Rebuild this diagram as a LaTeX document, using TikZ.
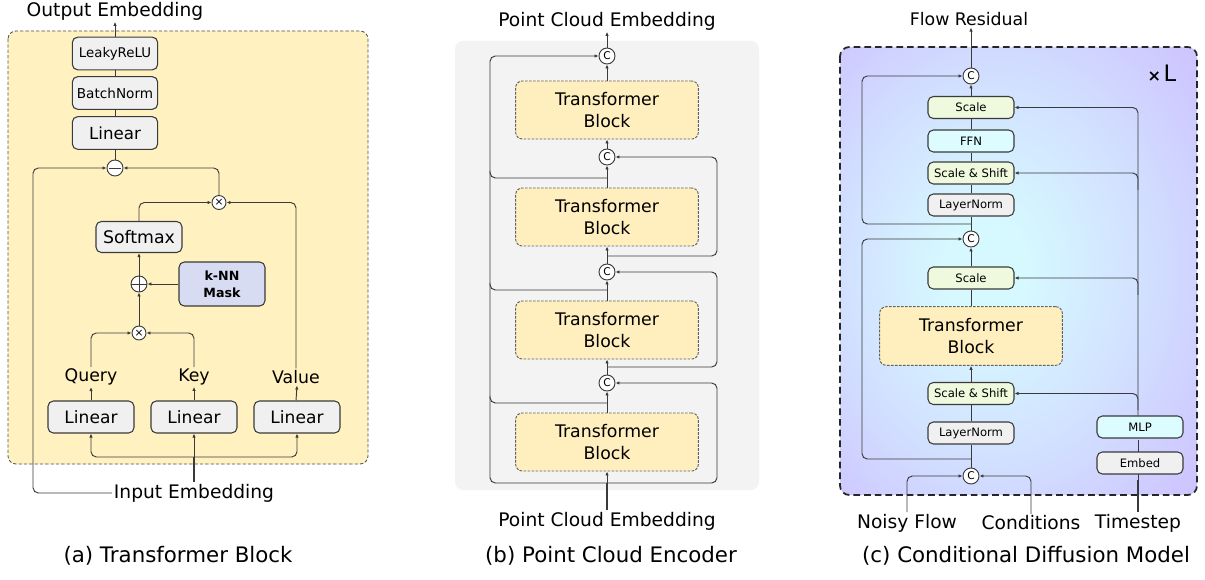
\documentclass[tikz,border=0pt]{standalone}
\usepackage{fontspec}
\setmainfont{DejaVu Sans}
\usetikzlibrary{arrows.meta,calc}
\definecolor{ln}{HTML}{3A3A3A}
\definecolor{ayel}{HTML}{FFF2C0}
\definecolor{tyel}{HTML}{FFEFBE}
\definecolor{gbx}{HTML}{F0F0F0}
\definecolor{bgray}{HTML}{F3F3F3}
\definecolor{maskc}{HTML}{D7DCF2}
\definecolor{grn}{HTML}{EFF9DD}
\definecolor{cyn}{HTML}{DCFCFF}
\definecolor{cA}{HTML}{D6F8FF}
\definecolor{cB}{HTML}{D2E2FF}
\definecolor{cM}{HTML}{CEC8FF}
\definecolor{cC}{HTML}{C9B4FB}
\definecolor{cD}{HTML}{C4A6F7}
\pgfdeclareradialshading{myrad}{\pgfpoint{-5bp}{0bp}}{color(0bp)=(cA); color(6bp)=(cA); color(20bp)=(cB); color(34bp)=(cM); color(48bp)=(cC); color(71bp)=(cD)}
\begin{document}
\begin{tikzpicture}[x=0.75pt,y=-0.75pt,
  line width=0.7pt, draw=ln,
  >={Latex[length=3pt,width=2.6pt]},
  rc/.style={rounded corners=4pt},
  txt/.style={inner sep=1pt, text=black},
  fa/.style={font=\fontsize{14}{16}\selectfont},
  fq/.style={font=\fontsize{13}{15}\selectfont},
  gbox/.style={draw=ln, fill=gbx, rounded corners=4pt, line width=0.8pt, inner sep=0pt, align=center},
  tblock/.style={draw=ln!80, fill=tyel, rounded corners=5pt, line width=0.7pt, dash pattern=on 2pt off 1pt, inner sep=0pt, align=center, minimum width=137pt, minimum height=43.5pt, font=\fontsize{13}{16}\selectfont},
  cbox/.style={draw=ln, rounded corners=4pt, line width=0.8pt, inner sep=0pt, minimum width=64.5pt, minimum height=16.5pt, font=\fontsize{8.7}{10}\selectfont},
  opc/.style={circle, draw=ln, line width=0.7pt, fill=white, inner sep=0pt, minimum size=12pt},
  cc/.style={opc, font=\fontsize{8}{9}\selectfont},
  plusc/.style={opc, path picture={\draw[line width=0.7pt] (path picture bounding box.north) -- (path picture bounding box.south) (path picture bounding box.west) -- (path picture bounding box.east);}},
  minusc/.style={opc, path picture={\draw[line width=0.7pt] ([xshift=-4.2pt]path picture bounding box.center) -- ([xshift=4.2pt]path picture bounding box.center);}},
  timesc/.style={opc, minimum size=10.5pt, font=\fontsize{8}{9}\selectfont}
]
\useasboundingbox (0,0) rectangle (1205,580);

% ================= (a) =================
\draw[fill=ayel, rounded corners=6pt, line width=0.6pt, draw=ln!90, dash pattern=on 2.5pt off 1.5pt] (8,31) rectangle (368,464);
\node[txt,fa] (outemb) at (115,11) {Output Embedding};
\node[gbox, minimum width=64pt, minimum height=24.5pt, font=\fontsize{10}{12}\selectfont] (lrelu) at (115,53.5) {LeakyReLU};
\node[gbox, minimum width=64pt, minimum height=24.5pt, font=\fontsize{10.2}{12}\selectfont] (bn) at (115,93) {BatchNorm};
\node[gbox, minimum width=64pt, minimum height=24.5pt, font=\fontsize{12.5}{14}\selectfont] (lin0) at (115,133) {Linear};
\node[minusc] (minus) at (115,168) {};
\node[timesc] (times1) at (219,202.5) {×};
\node[gbox, minimum width=64.5pt, minimum height=23.25pt, font=\fontsize{13}{15}\selectfont] (soft) at (139,237) {Softmax};
\node[plusc] (plus) at (139,284) {};
\node[gbox, fill=maskc, minimum width=64.5pt, minimum height=33pt, font=\bfseries\fontsize{9.5}{12.5}\selectfont] (mask) at (222,284) {k-NN\\Mask};
\node[timesc] (times2) at (139,333) {×};
\node[txt,fq] (qry) at (91,377) {Query};
\node[txt,fq] (key) at (194,377) {Key};
\node[txt,fq] (val) at (296,377) {Value};
\node[gbox, minimum width=64.5pt, minimum height=24pt, font=\fontsize{12.8}{14}\selectfont] (linq) at (91,417) {Linear};
\node[gbox, minimum width=64.5pt, minimum height=24pt, font=\fontsize{12.8}{14}\selectfont] (link) at (194,417) {Linear};
\node[gbox, minimum width=64.5pt, minimum height=24pt, font=\fontsize{12.8}{14}\selectfont] (linv) at (297,417) {Linear};
\node[txt,fa] (inemb) at (194,493) {Input Embedding};
\coordinate (asplit) at (194,457);

\draw[->] (lrelu.north) -- (lrelu.north |- outemb.south);
\draw (bn) -- (lrelu);
\draw (lin0) -- (bn);
\draw (minus) -- (lin0);
\draw[->,rc] (inemb.west) -| (33,300) |- (minus.west);
\draw[->,rc] (times1.north) |- (minus.east);
\draw[->,rc] (soft.north) |- (times1.west);
\draw[->,rc] (val.north) |- (times1.east);
\draw[->] (plus) -- (soft);
\draw[->] (mask.west) -- (plus.east);
\draw[->] (times2) -- (plus);
\draw[->,rc] (qry.north) |- (times2.west);
\draw[->,rc] (key.north) |- (times2.east);
\draw[->] (linq) -- (qry);
\draw[->] (link) -- (key);
\draw[->] (linv.north -| val.north) -- (val.south -| linv.north);
\draw[line width=1.2pt] (inemb.north) -- (asplit);
\draw[->] (asplit) -- (link.south);
\draw[->,rc] (asplit) -| (linq.south);
\draw[->,rc] (asplit) -| (linv.south);

% ================= (b) =================
\fill[bgray, rounded corners=6pt] (455,41) rectangle (759,490);
\node[txt,fa] (pce1) at (607,21) {Point Cloud Embedding};
\node[cc] (cb1) at (607,56) {C};
\node[cc] (cb2) at (607,157) {C};
\node[cc] (cb3) at (607,272) {C};
\node[cc] (cb4) at (607,383) {C};
\node[tblock] (tb1) at (607,110) {Transformer\\Block};
\node[tblock] (tb2) at (607,217) {Transformer\\Block};
\node[tblock] (tb3) at (607,330) {Transformer\\Block};
\node[tblock] (tb4) at (607,442) {Transformer\\Block};
\node[txt,fa] (pce2) at (607,521) {Point Cloud Embedding};
\coordinate (jl2) at (607,178);
\coordinate (jl3) at (607,290);
\coordinate (jl4) at (607,403);
\coordinate (jr2) at (607,256);
\coordinate (jr3) at (607,367);
\coordinate (jb) at (607,483);

\draw[->] (cb1) -- (pce1);
\draw[->] (tb1) -- (cb1);
\draw[->] (cb2) -- (tb1);
\draw[->] (tb2) -- (cb2);
\draw[->] (cb3) -- (tb2);
\draw[->] (tb3) -- (cb3);
\draw[->] (cb4) -- (tb3);
\draw[->] (tb4) -- (cb4);
\draw[line width=1.2pt] (pce2.north) -- (jb);
\draw[->] (jb) -- (tb4.south);
\draw[->,rc] (jb) -- (490,483) -- (490,56) -- (cb1.west);
\draw[rc] (jl2) -- (490,178) -- (490,171);
\draw[rc] (jl3) -- (490,290) -- (490,283);
\draw[rc] (jl4) -- (490,403) -- (490,396);
\draw[->,rc] (jr2) -- (717,256) |- (cb2.east);
\draw[->,rc] (jr3) -- (717,367) |- (cb3.east);
\draw[->,rc] (jb) -- (717,483) |- (cb4.east);

% ================= (c) =================
\shade[shading=myrad, rounded corners=7pt] (840,47) rectangle (1197,495);
\draw[rounded corners=7pt, line width=1.3pt, draw=black!85, dash pattern=on 5pt off 3pt] (840,47) rectangle (1197,495);
\node[txt, font=\fontsize{13}{15}\selectfont] (fr) at (969,19) {Flow Residual};
\node[txt] (xl) at (1162,73) {{\bfseries\fontsize{12}{14}\selectfont ×}\kern2pt{\fontsize{17}{19}\selectfont L}};
\node[cc] (cc1) at (971,76) {C};
\node[cc] (cc2) at (971,239) {C};
\node[cc] (cc3) at (971,476) {C};
\node[cbox, fill=grn] (sc1) at (971,107.5) {Scale};
\node[cbox, fill=cyn] (ffn) at (971,141) {FFN};
\node[cbox, fill=grn] (ss1) at (971,173) {Scale \& Shift};
\node[cbox, fill=gbx] (ln1) at (971,205) {LayerNorm};
\node[cbox, fill=grn] (sc2) at (971,278) {Scale};
\node[tblock, minimum height=44pt, fill=tyel] (tbc) at (971,336) {Transformer\\Block};
\node[cbox, fill=grn] (ss2) at (971,393.5) {Scale \& Shift};
\node[cbox, fill=gbx] (ln2) at (971,433) {LayerNorm};
\node[txt,fa] (nf) at (907,523) {Noisy Flow};
\node[txt,fa] (cond) at (1031,523) {Conditions};
\node[txt,fa] (ts) at (1138,523) {Timestep};
\coordinate (j1) at (971,224);
\coordinate (j2) at (971,459);
\coordinate (tbr1) at (1138,190);
\coordinate (tbr2) at (1138,295);
\coordinate (tbr3) at (1138,410);

\draw[->] (cc1.north) -- (cc1.north |- fr.south);
\draw[->] (sc1) -- (cc1);
\draw (ffn) -- (sc1);
\draw (ss1) -- (ffn);
\draw (ln1) -- (ss1);
\draw (cc2) -- (ln1);
\draw[->,rc] (j1) -- (862,224) |- (cc1.west);
\draw[->] (sc2) -- (cc2);
\draw (tbc) -- (sc2);
\draw[->] (ss2) -- (tbc);
\draw (ln2) -- (ss2);
\draw (cc3) -- (ln2);
\draw[->,rc] (j2) -- (862,459) |- (cc2.west);
\draw[->,rc] (nf.north) |- (cc3.west);
\draw[->,rc] (cond.north) |- (cc3.east);
\draw[line width=1.1pt] (ts.north) -- (1138,480);
\draw (1138,480) -- (1138,440);
\node[cbox, fill=gbx] (emb) at (1140,463) {Embed};
\node[cbox, fill=cyn] (mlp) at (1140,427) {MLP};
\draw[->,rc] (mlp.north -| ts.north) |- (sc1.east);
\draw[->,rc] (tbr1) |- (ss1.east);
\draw[->,rc] (tbr2) |- (sc2.east);
\draw[->,rc] (tbr3) |- (ss2.east);

% ================= captions =================
\node[txt, font=\fontsize{16}{18}\selectfont] (capa) at (178,556) {(a) Transformer Block};
\node[txt, font=\fontsize{16}{18}\selectfont] (capb) at (611,556) {(b) Point Cloud Encoder};
\node[txt, font=\fontsize{16}{18}\selectfont] (capc) at (1026,556) {(c) Conditional Diffusion Model};
\end{tikzpicture}
\end{document}
